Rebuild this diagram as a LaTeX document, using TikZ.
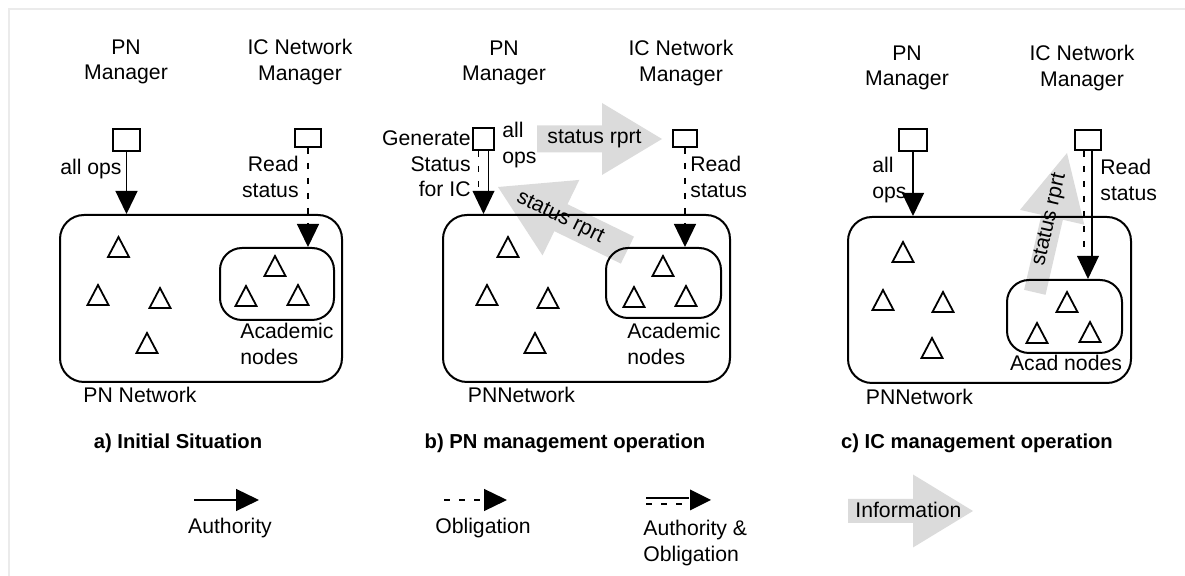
\documentclass[tikz,border=0pt]{standalone}
\usepackage{fontspec}
\setmainfont{Liberation Sans}
\usetikzlibrary{arrows.meta,fit}

\tikzset{
  mgr/.style={draw, line width=0.8pt, inner sep=0pt, minimum width=13.5pt, minimum height=11pt},
  net/.style={draw, line width=1pt, rounded corners=12pt, inner sep=0pt},
  acad/.style={net, rounded corners=11pt},
  auth/.style={line width=0.65pt, -{Triangle[length=11.5pt, width=11pt]}},
  dashs/.style={dash pattern=on 3pt off 4.5pt},
  oblig/.style={auth, dashs},
  pair/.style={line width=0.65pt, shorten >=11pt},
  tri/.style={line width=0.9pt},
  info/.style={fill=black!14},
  caption/.style={font=\fontsize{10.1}{12}\selectfont\bfseries},
}

\begin{document}
\begin{tikzpicture}[x=0.5pt, y=-0.5pt, font=\fontsize{10.6}{12.8}\selectfont,
    every node/.append style={inner sep=0pt}]
    \useasboundingbox (0,0) rectangle (1185,576);
    \draw[black!8, line width=1pt] (8.5,576) -- (8.5,9.5) -- (1185,9.5);

    % a) initial situation
    \begin{scope}
        \node[align=center] (pnla) at (126,62) {PN\\Manager};
        \node[align=center] (icla) at (300,62) {IC Network\\Manager};
        \node[mgr] (pna) at (126.5,140) {};
        \node[mgr, minimum width=13pt, minimum height=9pt] (ica) at (308,138) {};
        \node[net, fit={(60,215) (342,382)}] (neta) {};
        \node[acad, fit={(220,248) (334,320)}] (acada) {};
        \draw[auth] (pna.south) -- (pna.south |- neta.north);
        \draw[oblig] (ica.south) -- (ica.south |- acada.north);
        \node[anchor=east] (opsa) at (122,169) {all ops};
        \node[anchor=east, align=right] (rda) at (299,177) {Read\\status};
        \node[anchor=west, align=left] (acnoa) at (240,344) {Academic\\nodes};
        \node[anchor=west] (netla) at (83,395) {PN Network};
        \foreach \x/\y in {118.5/247, 98/295, 160/298, 147/343, 275/266, 246/296, 298/295}
            \draw[tri] (\x,\y) ++(-10.5,10) -- ++(21,0) -- ++(-10.5,-20) -- cycle;
    \end{scope}

    % b) PN management operation
    \begin{scope}[shift={(382,0)}]
        \fill[info] (280,139) -- ++(-60,-36) -- ++(0,22.5) -- ++(-65,0) -- ++(0,27) -- ++(65,0) -- ++(0,22.5) -- cycle;
        \fill[info, shift={(116,187)}, rotate=154] (0,0) -- (-70,-42) -- (-70,-15) -- (-144,-15) -- (-144,15) -- (-70,15) -- (-70,42) -- cycle;
        \node[anchor=west] (rptb) at (165,139) {status rprt};
        \node[rotate=-26] (rptbb) at (178,218) {status rprt};
        \node[align=center] (pnlb) at (122,63) {PN\\Manager};
        \node[align=center] (iclb) at (299,63) {IC Network\\Manager};
        \node[mgr, minimum width=10.5pt] (pnb) at (101.5,139) {};
        \node[mgr, minimum width=12pt, minimum height=8.5pt] (icb) at (303,138.5) {};
        \node[net, fit={(61,215) (348,382)}] (netb) {};
        \node[acad, fit={(224,248) (339,318)}] (acadb) {};
        \draw[pair, dashs] ([xshift=-2.5pt]pnb.south) -- ([xshift=-2.5pt]pnb.south |- netb.north);
        \draw[pair] ([xshift=2.5pt]pnb.south) -- ([xshift=2.5pt]pnb.south |- netb.north);
        \fill (pnb.south |- netb.north) -- ++(-11,-23) -- ++(22,0) -- cycle;
        \draw[oblig] (icb.south) -- (icb.south |- acadb.north);
        \node[anchor=east, align=right] (genb) at (89,164) {Generate\\Status\\for IC};
        \node[anchor=west, align=left] (opsb) at (120,145) {all\\ops};
        \node[anchor=west, align=left] (rdb) at (308,177) {Read\\status};
        \node[anchor=west, align=left] (acnob) at (245,344) {Academic\\nodes};
        \node (netlb) at (139.5,395) {PNNetwork};
        \foreach \x/\y in {126/247, 105/295, 166/298, 153/343, 281/266, 252/297, 304/296}
            \draw[tri] (\x,\y) ++(-10.5,10) -- ++(21,0) -- ++(-10.5,-20) -- cycle;
    \end{scope}

    % c) IC management operation
    \begin{scope}[shift={(770,0)}]
        \fill[info, shift={(297,153)}, rotate=77] (0,0) -- (-66,-33) -- (-66,-11) -- (-143,-11) -- (-143,11) -- (-66,11) -- (-66,33) -- cycle;
        \node[rotate=77] (rptc) at (280,220) {status rprt};
        \node[align=center] (pnlc) at (137,68) {PN\\Manager};
        \node[align=center] (iclc) at (312,68) {IC Network\\Manager};
        \node[mgr, minimum width=14pt] (pnc) at (143,140) {};
        \node[mgr, minimum width=13pt, minimum height=10pt] (icc) at (318,140) {};
        \node[net, fit={(78,217) (361,383)}] (netc) {};
        \node[acad, fit={(237,280) (352,353)}] (acadc) {};
        \draw[auth] (pnc.south) -- (pnc.south |- netc.north);
        \draw[pair, dashs] ([xshift=-2pt]icc.south) -- ([xshift=-2pt]icc.south |- acadc.north);
        \draw[pair] ([xshift=2pt]icc.south) -- ([xshift=2pt]icc.south |- acadc.north);
        \fill (icc.south |- acadc.north) -- ++(-11,-23) -- ++(22,0) -- cycle;
        \node[anchor=west, align=left] (opsc) at (102,180) {all\\ops};
        \node[anchor=west, align=left] (rdc) at (330,180) {Read\\status};
        \node (acnoc) at (296,363) {Acad nodes};
        \node (netlc) at (149.5,397) {PNNetwork};
        \foreach \x/\y in {133/252, 113/300, 173/302, 162/348, 297/302, 267/333, 320/332}
            \draw[tri] (\x,\y) ++(-10.5,10) -- ++(21,0) -- ++(-10.5,-20) -- cycle;
    \end{scope}

    % captions
    \node[caption] (capa) at (178,443) {a) Initial Situation};
    \node[caption] (capb) at (565,443) {b) PN management operation};
    \node[caption] (capc) at (977,443) {c) IC management operation};

    % legend
    \coordinate (auth1) at (194,500);
    \coordinate (auth2) at (259,500);
    \draw[auth] (auth1) -- (auth2);
    \node (authl) at (230,528) {Authority};
    \coordinate (obl1) at (444,500);
    \coordinate (obl2) at (507,500);
    \draw[oblig] (obl1) -- (obl2);
    \node (obll) at (483,528) {Obligation};
    \coordinate (ao1) at (646,500);
    \coordinate (ao2) at (711,500);
    \draw[pair] ([yshift=1pt]ao1) -- ([yshift=1pt]ao2);
    \draw[pair, dashs] ([yshift=-2pt]ao1) -- ([yshift=-2pt]ao2);
    \fill (ao2) -- ++(-21,-10.5) -- ++(0,21) -- cycle;
    \node[anchor=north west, align=left] (aol) at (643,520) {Authority \&\\Obligation};
    \fill[info] (973,511) -- ++(-60,-36.5) -- ++(0,24.5) -- ++(-65,0) -- ++(0,24) -- ++(65,0) -- ++(0,24.5) -- cycle;
    \node[anchor=west] (infol) at (855,510) {Information};

\end{tikzpicture}
\end{document}
